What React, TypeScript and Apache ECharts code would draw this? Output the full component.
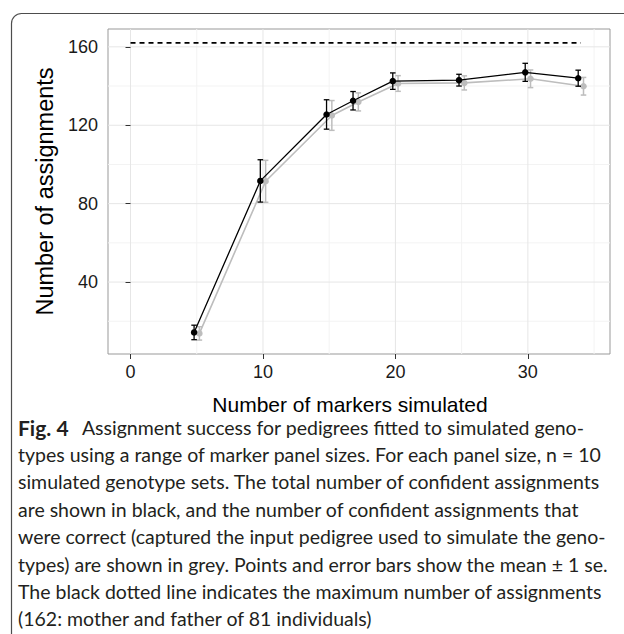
import React, { useEffect, useRef } from "react";
import * as echarts from "echarts";

// ---- data ----
const markers = [5, 10, 15, 17, 20, 25, 30, 34];
const totalMean = [14.3, 91.6, 125.5, 132.5, 142.5, 143.0, 147.0, 144.0];
const totalSE = [3.7, 10.8, 7.5, 4.7, 4.2, 3.0, 4.6, 4.1];
const correctMean = [13.8, 91.4, 125.0, 131.9, 141.3, 141.6, 143.7, 139.9];
const correctSE = [3.4, 10.7, 7.6, 4.6, 4.0, 3.6, 4.5, 4.5];
const maxAssignments = 162;
const maxLineX = [0, 34];
const xTicks = [0, 10, 20, 30];
const xMinor = [5, 15, 25, 35];
const yTicks = [40, 80, 120, 160];
const yMinor = [20, 60, 100, 140];
const xTitle = "Number of markers simulated";
const yTitle = "Number of assignments";
const captionBold = "Fig. 4";
const captionLines = [
  "Assignment success for pedigrees fitted to simulated geno-",
  "types using a range of marker panel sizes. For each panel size, n = 10",
  "simulated genotype sets. The total number of confident assignments",
  "are shown in black, and the number of confident assignments that",
  "were correct (captured the input pedigree used to simulate the geno-",
  "types) are shown in grey. Points and error bars show the mean \u00b1 1 se.",
  "The black dotted line indicates the maximum number of assignments",
  "(162: mother and father of 81 individuals)",
];

const DODGE = 0.2;
const AXIS_FONT = "'Liberation Sans', Arial, Helvetica, sans-serif";
const CAP_FONT = "Lato, 'Open Sans', sans-serif";

export default function App() {
  const ref = useRef<HTMLDivElement>(null);
  useEffect(() => {
    if (!ref.current) return;
    const chart = echarts.init(ref.current, undefined, { renderer: "svg" });

    const errRender = (color: string, width: number) => (params: any, api: any) => {
      const x = api.value(0);
      const lo = api.value(1);
      const hi = api.value(2);
      const top = api.coord([x, hi]);
      const bot = api.coord([x, lo]);
      const hw = api.size([0.42, 0])[0] / 2;
      const style = { stroke: color, lineWidth: width, fill: "none" };
      return {
        type: "group",
        children: [
          { type: "line", shape: { x1: top[0], y1: top[1], x2: bot[0], y2: bot[1] }, style },
          { type: "line", shape: { x1: top[0] - hw, y1: top[1], x2: top[0] + hw, y2: top[1] }, style },
          { type: "line", shape: { x1: bot[0] - hw, y1: bot[1], x2: bot[0] + hw, y2: bot[1] }, style },
        ],
      };
    };

    const gridRender = (params: any, api: any) => {
      const cs = params.coordSys;
      const children: any[] = [];
      const add = (v: number, vertical: boolean, color: string) => {
        if (vertical) {
          const p = api.coord([v, 100]);
          children.push({ type: "line", shape: { x1: p[0], y1: cs.y, x2: p[0], y2: cs.y + cs.height }, style: { stroke: color, lineWidth: 1 } });
        } else {
          const p = api.coord([10, v]);
          children.push({ type: "line", shape: { x1: cs.x, y1: p[1], x2: cs.x + cs.width, y2: p[1] }, style: { stroke: color, lineWidth: 1 } });
        }
      };
      xMinor.forEach((v) => add(v, true, "#f3f3f3"));
      yMinor.forEach((v) => add(v, false, "#f3f3f3"));
      xTicks.forEach((v) => add(v, true, "#e6e6e6"));
      yTicks.forEach((v) => add(v, false, "#e6e6e6"));
      return { type: "group", children };
    };

    const captionGraphics: any[] = captionLines.map((line, i) => ({
      type: "text",
      left: 18,
      top: 417 + i * 27.4,
      style: i === 0
        ? {
            text: `{b|${captionBold}}  ${line}`,
            font: `19.5px ${CAP_FONT}`,
            fill: "#231f20",
            rich: {
              b: { fontWeight: "bold", fontSize: 21, fontFamily: CAP_FONT, fill: "#231f20", padding: [0, 4, 0, 0] },
            },
          }
        : { text: line, font: `19.5px ${CAP_FONT}`, fill: "#231f20" },
    }));

    const option: any = {
      animation: false,
      backgroundColor: "#ffffff",
      grid: {
        left: 108,
        top: 29,
        width: 502,
        height: 325,
        show: true,
        borderColor: "#999999",
        borderWidth: 1,
        backgroundColor: "#ffffff",
      },
      xAxis: {
        type: "value",
        min: -1.7,
        max: 36.2,
        axisLine: { show: false },
        splitLine: { show: false },
        axisTick: { show: true, customValues: xTicks, length: 5, lineStyle: { color: "#333", width: 1 } },
        axisLabel: { customValues: xTicks, margin: 9, fontSize: 18, color: "#1a1a1a", fontFamily: AXIS_FONT },
        name: xTitle,
        nameLocation: "middle",
        nameGap: 40,
        nameTextStyle: { fontSize: 21, color: "#000", fontFamily: AXIS_FONT, padding: [0, 18, 0, 0] },
      },
      yAxis: {
        type: "value",
        min: 3.3,
        max: 169.1,
        axisLine: { show: false },
        splitLine: { show: false },
        axisTick: { show: true, customValues: yTicks, length: 5, lineStyle: { color: "#333", width: 1 } },
        axisLabel: { customValues: yTicks, margin: 10, fontSize: 18, color: "#1a1a1a", fontFamily: AXIS_FONT },
        name: yTitle,
        nameLocation: "middle",
        nameRotate: 90,
        nameGap: 51,
        nameTextStyle: { fontSize: 23.5, color: "#000", fontFamily: AXIS_FONT },
      },
      graphic: [
        {
          type: "rect",
          shape: { x: 11.5, y: 13.5, width: 800, height: 800, r: 10 },
          style: { fill: "none", stroke: "#4d4d4d", lineWidth: 1.2 },
          silent: true,
          z: 100,
        },
        ...captionGraphics,
      ],
      series: [
        {
          type: "custom",
          name: "grid",
          renderItem: gridRender,
          data: [[0, 0]],
          silent: true,
          z: 0,
          clip: false,
        },
        {
          type: "line",
          name: "max",
          data: maxLineX.map((x) => [x, maxAssignments]),
          symbol: "none",
          lineStyle: { color: "#000", width: 1.6, type: [5, 4] },
          silent: true,
          z: 3,
        },
        {
          type: "line",
          name: "correct",
          data: markers.map((m, i) => [m + DODGE, correctMean[i]]),
          symbol: "circle",
          symbolSize: 6.5,
          lineStyle: { color: "#bdbdbd", width: 1.6 },
          itemStyle: { color: "#bdbdbd" },
          z: 3,
        },
        {
          type: "custom",
          name: "correctErr",
          renderItem: errRender("#bdbdbd", 1.5),
          data: markers.map((m, i) => [m + DODGE, correctMean[i] - correctSE[i], correctMean[i] + correctSE[i]]),
          z: 3,
        },
        {
          type: "line",
          name: "total",
          data: markers.map((m, i) => [m - DODGE, totalMean[i]]),
          symbol: "circle",
          symbolSize: 6.5,
          lineStyle: { color: "#000", width: 1.3 },
          itemStyle: { color: "#000" },
          z: 4,
        },
        {
          type: "custom",
          name: "totalErr",
          renderItem: errRender("#000", 1.3),
          data: markers.map((m, i) => [m - DODGE, totalMean[i] - totalSE[i], totalMean[i] + totalSE[i]]),
          z: 4,
        },
      ],
    };
    chart.setOption(option);
    return () => chart.dispose();
  }, []);
  return (
    <div
      ref={ref}
      style={{ position: "absolute", left: 0, top: 0, width: 624, height: 634, background: "#fff" }}
    />
  );
}
